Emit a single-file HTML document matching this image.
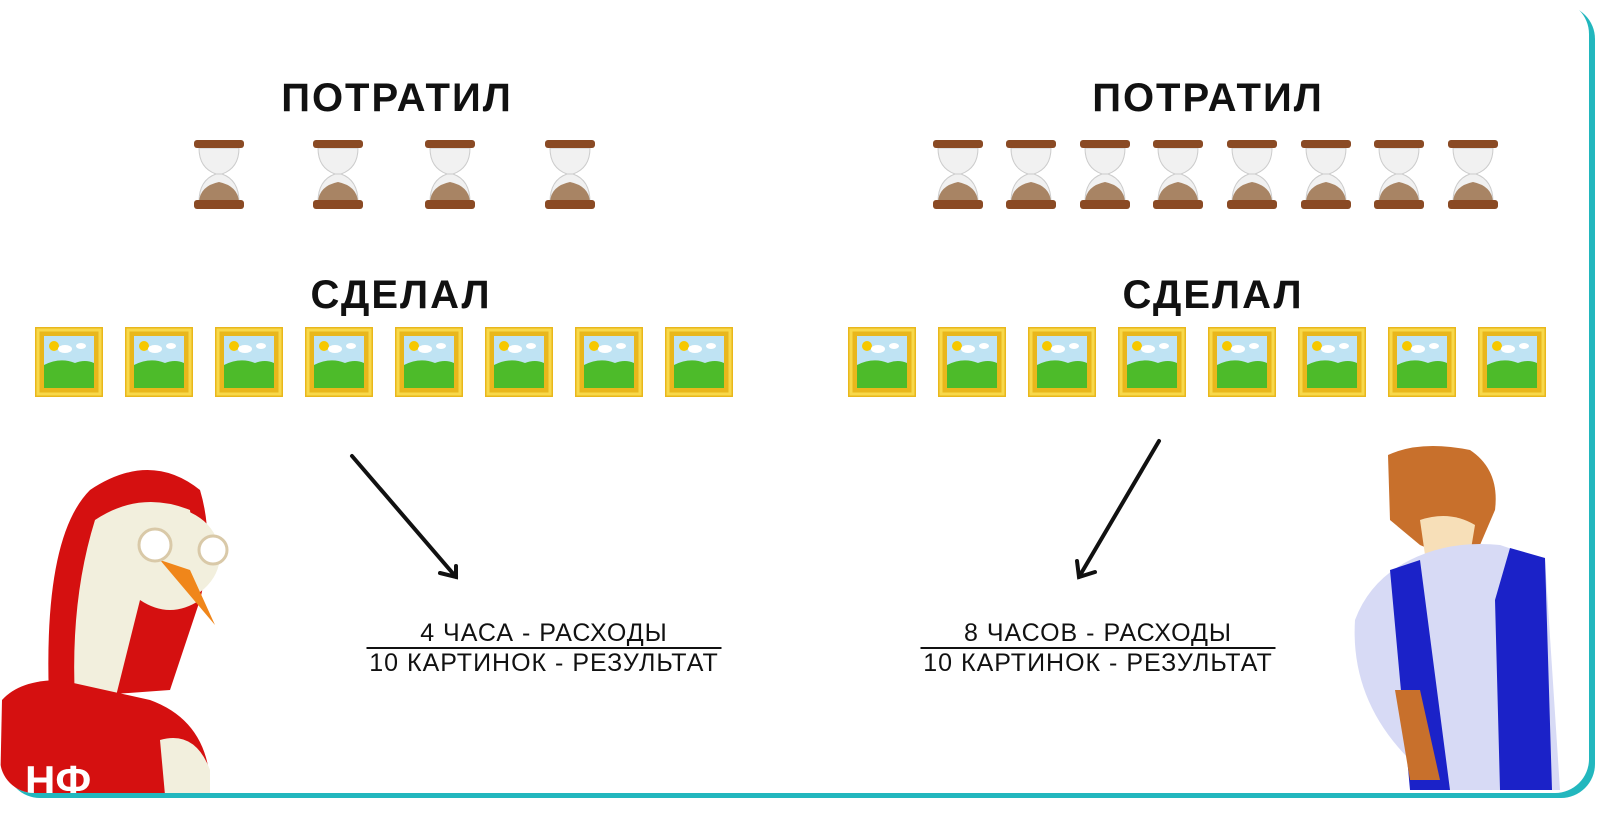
<!DOCTYPE html>
<html><head><meta charset="utf-8"><style>
html,body{margin:0;padding:0;background:#fff;width:1600px;height:820px;overflow:hidden}
.card{position:absolute;left:0;top:0;width:1589px;height:793px;border-radius:34px;background:#fff;box-shadow:6px 5px 0 #22b7be;overflow:hidden}
.t{position:absolute;font-family:"Liberation Sans",sans-serif;font-weight:bold;color:#111;white-space:nowrap;transform:translateX(-50%);letter-spacing:2px}
.h{font-size:40px}
.f{font-size:25px;font-weight:normal;letter-spacing:1px;line-height:28px;text-align:center}
.f span{display:block}
.f .top{border-bottom:2px solid #111}
svg{position:absolute;left:0;top:0}
</style></head><body>
<div class="card">
<svg width="1600" height="820">
<defs>
<g id="hg">
<path d="M-20 8 Q-20 28 -3 34 L3 34 Q20 28 20 8Z" fill="#f1f1f1" stroke="#ccc"/>
<path d="M-20 62 Q-20 40 -3 34 L3 34 Q20 40 20 62Z" fill="#f1f1f1" stroke="#ccc"/>
<path d="M-20 62 Q-19 46 0 42 Q19 46 20 62Z" fill="#a88464"/>
<rect x="-25" y="0" width="50" height="8" rx="3" fill="#8a4a24"/>
<rect x="-25" y="60" width="50" height="9" rx="3" fill="#8a4a24"/>
</g>
<g id="fr">
<rect x="0" y="0" width="68" height="70" fill="#e9b71c"/>
<rect x="3" y="3" width="62" height="64" fill="none" stroke="#f8d84a" stroke-width="3"/>
<rect x="9" y="9" width="50" height="52" fill="#bfe3f3"/>
<path d="M9 38 Q25 30 40 36 Q50 32 59 36 L59 61 L9 61Z" fill="#4dbb2a"/>
<circle cx="19" cy="19" r="5" fill="#f6c800"/>
<ellipse cx="30" cy="22" rx="7" ry="4" fill="#fff"/>
<ellipse cx="46" cy="19" rx="5" ry="3" fill="#fff"/>
</g>
</defs>
<use href="#hg" x="219" y="140"/><use href="#hg" x="338" y="140"/><use href="#hg" x="450" y="140"/><use href="#hg" x="570" y="140"/>
<use href="#hg" x="958" y="140"/><use href="#hg" x="1031" y="140"/><use href="#hg" x="1105" y="140"/><use href="#hg" x="1178" y="140"/><use href="#hg" x="1252" y="140"/><use href="#hg" x="1326" y="140"/><use href="#hg" x="1399" y="140"/><use href="#hg" x="1473" y="140"/>
<use href="#fr" x="35" y="327"/><use href="#fr" x="125" y="327"/><use href="#fr" x="215" y="327"/><use href="#fr" x="305" y="327"/><use href="#fr" x="395" y="327"/><use href="#fr" x="485" y="327"/><use href="#fr" x="575" y="327"/><use href="#fr" x="665" y="327"/>
<use href="#fr" x="848" y="327"/><use href="#fr" x="938" y="327"/><use href="#fr" x="1028" y="327"/><use href="#fr" x="1118" y="327"/><use href="#fr" x="1208" y="327"/><use href="#fr" x="1298" y="327"/><use href="#fr" x="1388" y="327"/><use href="#fr" x="1478" y="327"/>
<g stroke="#111" stroke-width="4" fill="none" stroke-linecap="round">
<path d="M352 456 L456 577 M440 573 L456 577 L456 566"/>
<path d="M1159 441 L1079 577 M1077 561 L1079 577 L1095 572"/>
</g>
<!-- goose -->
<path d="M50 720 Q40 540 90 490 Q150 450 200 490 Q215 540 200 600 L170 690 L30 700Z" fill="#d51010"/>
<path d="M95 520 Q140 490 190 510 L200 600 Q170 620 140 600 L115 700 L75 700 Q70 600 95 520Z" fill="#f2efdd"/>
<ellipse cx="165" cy="555" rx="55" ry="48" fill="#f2efdd"/>
<path d="M160 560 L215 625 L190 570Z" fill="#f0861a"/>
<circle cx="155" cy="545" r="16" fill="#fff" stroke="#d9c9a8" stroke-width="3"/>
<circle cx="213" cy="550" r="14" fill="#fff" stroke="#d9c9a8" stroke-width="3"/>
<path d="M2 700 Q20 680 60 680 L150 700 Q205 720 210 780 L210 795 L0 795Z" fill="#d51010"/>
<path d="M160 740 Q195 730 210 770 L210 795 L165 795Z" fill="#f2efdd"/>
<text x="25" y="795" font-family="Liberation Sans" font-weight="bold" font-size="42" fill="#fff">НФ</text>
<!-- tiger -->
<path d="M1388 455 Q1420 440 1470 450 Q1500 470 1495 510 L1480 545 Q1450 560 1420 545 L1390 520Z" fill="#c8702c"/>
<path d="M1420 520 Q1450 510 1475 525 L1470 555 Q1445 570 1425 555Z" fill="#f7dfb8"/>
<path d="M1410 560 Q1450 540 1500 545 L1545 560 L1560 790 L1430 790 L1410 760 Q1350 700 1355 620 Q1370 580 1410 560Z" fill="#d7daf5"/>
<path d="M1390 570 L1420 560 L1450 790 L1410 790Z M1510 548 L1545 558 L1552 790 L1500 790 L1495 600Z" fill="#1b22c8"/>
<path d="M1395 690 L1420 690 L1440 780 L1410 780Z" fill="#c8702c"/>
</svg>
<div class="t h" style="left:397px;top:76px">ПОТРАТИЛ</div>
<div class="t h" style="left:1208px;top:76px">ПОТРАТИЛ</div>
<div class="t h" style="left:401px;top:273px">СДЕЛАЛ</div>
<div class="t h" style="left:1213px;top:273px">СДЕЛАЛ</div>
<div class="t f" style="left:544px;top:619px"><span class="top" style="width:355px;margin:0 auto">4 ЧАСА - РАСХОДЫ</span><span>10 КАРТИНОК - РЕЗУЛЬТАТ</span></div>
<div class="t f" style="left:1098px;top:619px"><span class="top" style="width:355px;margin:0 auto">8 ЧАСОВ - РАСХОДЫ</span><span>10 КАРТИНОК - РЕЗУЛЬТАТ</span></div>
</div>
</body></html>
